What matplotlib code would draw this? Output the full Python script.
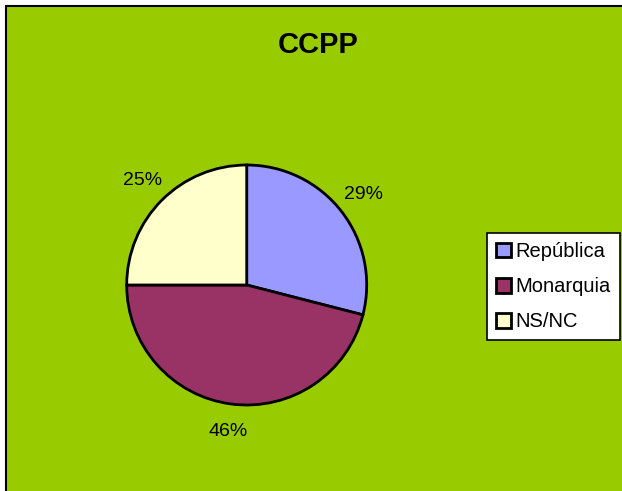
import matplotlib.pyplot as plt
from matplotlib.patches import Rectangle

plt.rcParams['font.family'] = ['Liberation Sans', 'DejaVu Sans']

# datos
categorias = ['República', 'Monarquia', 'NS/NC']
valores = [29, 46, 25]
colores = ['#9999FF', '#993366', '#FFFFCC']
titulo = 'CCPP'

fig = plt.figure(figsize=(6.22, 4.91), dpi=100, facecolor='white')

# fondo verde con borde
fondo = Rectangle((6 / 622, -0.05), 1.2, 1 - 6 / 491 + 0.05, transform=fig.transFigure,
                  facecolor='#99CC00', edgecolor='black', linewidth=1.5, zorder=-10)
fig.patches.append(fondo)

fig.text(318 / 622, 1 - 45 / 491, titulo, ha='center', va='center',
         fontsize=21, fontweight='bold')

ax = fig.add_axes([126.7 / 622, (491 - 405) / 491, 240 / 622, 240 / 491])
ax.set_facecolor('none')
wedges, textos, pct = ax.pie(valores, colors=colores, startangle=90, counterclock=False,
                             radius=1, autopct='%1.0f%%', pctdistance=1.23,
                             wedgeprops=dict(edgecolor='black', linewidth=2),
                             textprops=dict(fontsize=14))
ax.set_xlim(-1, 1)
ax.set_ylim(-1, 1)
ax.set_aspect('auto')
ax.axis('off')

leg = fig.legend(wedges, categorias, loc='upper left',
                 bbox_to_anchor=(487 / 622, 1 - 233 / 491), fontsize=14.5,
                 frameon=True, fancybox=False, handlelength=0.75, handleheight=0.75,
                 handletextpad=0.2, labelspacing=0.8, borderpad=0.45, borderaxespad=0)
leg.get_frame().set_edgecolor('black')
leg.get_frame().set_linewidth(1.2)
leg.get_frame().set_facecolor('white')
leg.get_frame().set_alpha(1)
for h in leg.legend_handles:
    h.set_linewidth(2)

fig.savefig('out.png', dpi=100, facecolor=fig.get_facecolor())
